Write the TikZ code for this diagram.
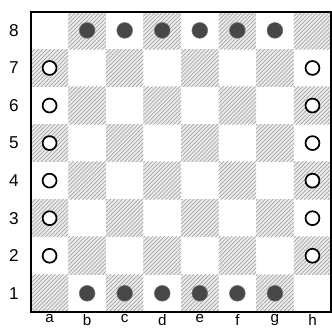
\documentclass[tikz,border=0pt]{standalone}
\usepackage{fontspec}
\setmainfont{Liberation Sans}
\usetikzlibrary{patterns}
\tikzset{
  darksq/.style={fill=black!8, postaction={pattern=north east lines, pattern color=black!40}},
  frame/.style={line width=1.4pt},
  blackman/.style={circle, fill=black!72, draw=black!55, minimum size=4.2mm, inner sep=0pt},
  whiteman/.style={circle, draw=black, line width=1.3pt, fill=white, minimum size=3.7mm, inner sep=0pt},
  coordlabel/.style={font=\fontsize{13}{13}\selectfont, inner sep=1pt},
  filelabel/.style={font=\fontsize{11.5}{11.5}\selectfont, inner sep=0pt, anchor=north},
}

\begin{document}
\begin{tikzpicture}

\useasboundingbox (-0.82,-0.47) rectangle (8.02,8.31);

% dark squares (a1 is dark)
\foreach \col in {0,...,7}
  \foreach \row in {0,...,7} {
    \pgfmathtruncatemacro{\parity}{mod(\col+\row,2)}
    \ifnum\parity=0
      \path[darksq] (\col,\row) rectangle ++(1,1);
    \fi
  }

\draw[frame] (0,0) rectangle (8,8);

% coordinates
\foreach \rank in {1,...,8}
  \node[coordlabel] (rank\rank) at (-0.45,\rank-0.5) {\rank};
\foreach \file [count=\i] in {a,b,c,d,e,f,g,h}
  \node[filelabel] (file\file) at (\i-0.5,-0.06) {\file};

% black men on ranks 8 and 1
\foreach \file [count=\i from 2] in {b,c,d,e,f,g} {
  \node[blackman] (\file8) at (\i-0.5,7.5) {};
  \node[blackman] (\file1) at (\i-0.5,0.5) {};
}

% white men on files a and h
\foreach \rank in {2,...,7} {
  \node[whiteman] (a\rank) at (0.5,\rank-0.5) {};
  \node[whiteman] (h\rank) at (7.5,\rank-0.5) {};
}

\end{tikzpicture}
\end{document}
